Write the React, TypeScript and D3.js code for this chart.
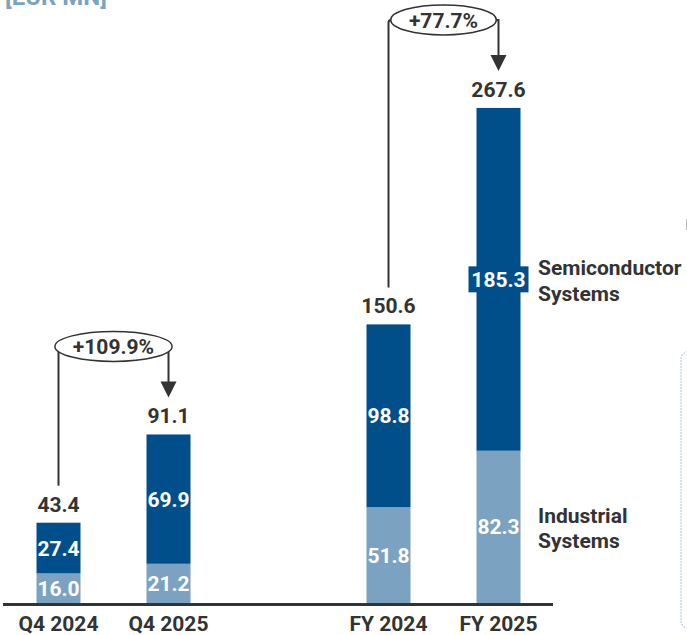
import React from "react";
import * as d3 from "d3";

const categories = ["Q4 2024", "Q4 2025", "", "FY 2024", "FY 2025"];
const barCategories = ["Q4 2024", "Q4 2025", "FY 2024", "FY 2025"];
const industrial = [16.0, 21.2, 51.8, 82.3];
const semiconductor = [27.4, 69.9, 98.8, 185.3];
const totals = [43.4, 91.1, 150.6, 267.6];
const growthLabels = ["+109.9%", "+77.7%"];
const growthFrom = ["Q4 2024", "FY 2024"];
const growthTo = ["Q4 2025", "FY 2025"];
const seriesNames = [["Industrial", "Systems"], ["Semiconductor", "Systems"]];
const unitLabel = "[EUR MN]";

const W = 687;
const H = 635;
const DARK = "#004E8A";
const LIGHT = "#7BA2C1";
const TEXT = "#333333";
const FONT = "Roboto, 'Liberation Sans', sans-serif";

export default function App() {
  const x = d3
    .scaleBand<string>()
    .domain(categories)
    .range([3.5, 553.5])
    .paddingInner(0.6)
    .paddingOuter(0.3);
  const y = d3.scaleLinear().domain([0, 300]).range([603, 48]);
  const bw = x.bandwidth();
  const cx = (c: string) => (x(c) as number) + bw / 2;

  const stack = d3
    .stack<any>()
    .keys(["ind", "semi"])(
      barCategories.map((c, i) => ({ cat: c, ind: industrial[i], semi: semiconductor[i] }))
    );
  const segValues = [industrial, semiconductor];
  const colors = [LIGHT, DARK];

  const last = barCategories.length - 1;
  const lastX = (x(barCategories[last]) as number) + bw;

  return (
    <svg
      width={W}
      height={H}
      style={{ position: "absolute", left: 0, top: 0, background: "#fff" }}
      fontFamily={FONT}
    >
      <text x={5} y={5} fontSize={24} fontWeight={700} fill={LIGHT}>
        {unitLabel}
      </text>

      {/* decorative border on the right */}
      <rect x={681} y={352} width={40} height={276} rx={7} fill="none" stroke="#A9C2D8" strokeWidth={1.3} strokeDasharray="1.5 1.5" />
      <line x1={686.5} x2={686.5} y1={219} y2={230} stroke="#BBBBBB" strokeWidth={1} />

      {stack.map((layer, li) => (
        <g key={li}>
          {layer.map((d, i) => {
            const c = barCategories[i];
            const top = y(d[1]);
            const bot = y(d[0]);
            return (
              <rect key={c} x={x(c)} y={top} width={bw} height={bot - top} fill={colors[li]} />
            );
          })}
        </g>
      ))}

      {stack.map((layer, li) => (
        <g key={"l" + li}>
          {layer.map((d, i) => {
            const c = barCategories[i];
            const mid = (y(d[0]) + y(d[1])) / 2;
            const label = segValues[li][i].toFixed(1);
            const wide = label.length >= 5;
            return (
              <g key={c}>
                {wide && (
                  <rect x={cx(c) - 30} y={mid - 13} width={60} height={26} fill={colors[li]} />
                )}
                <text
                  x={cx(c)}
                  y={mid + 7.5}
                  textAnchor="middle"
                  fontSize={21}
                  fontWeight={700}
                  fill="#ffffff"
                >
                  {label}
                </text>
              </g>
            );
          })}
        </g>
      ))}

      {barCategories.map((c, i) => (
        <text
          key={c}
          x={cx(c)}
          y={y(totals[i]) - 11}
          textAnchor="middle"
          fontSize={21}
          fontWeight={700}
          fill={TEXT}
        >
          {totals[i].toFixed(1)}
        </text>
      ))}

      {/* axis */}
      <line x1={3} x2={553} y1={604.5} y2={604.5} stroke={TEXT} strokeWidth={3} />
      {barCategories.map((c) => (
        <text key={c} x={cx(c)} y={631} textAnchor="middle" fontSize={21} fontWeight={700} fill={TEXT}>
          {c}
        </text>
      ))}

      {/* legend */}
      {stack.map((layer, li) => {
        const d = layer[last];
        const mid = (y(d[0]) + y(d[1])) / 2;
        return (
          <text key={li} x={lastX + 17.5} y={mid - 4} fontSize={21} fontWeight={700} fill={TEXT}>
            <tspan x={lastX + 17.5}>{seriesNames[li][0]}</tspan>
            <tspan x={lastX + 17.5} dy={25.5}>{seriesNames[li][1]}</tspan>
          </text>
        );
      })}

      {/* growth annotations */}
      {growthLabels.map((g, k) => {
        const fi = barCategories.indexOf(growthFrom[k]);
        const ti = barCategories.indexOf(growthTo[k]);
        const x1 = cx(growthFrom[k]);
        const x2 = cx(growthTo[k]);
        const fromTop = y(totals[fi]);
        const toTop = y(totals[ti]);
        const ecx = (x1 + x2) / 2;
        const ecy = toTop - 88;
        const rx = g.length * 5.8 + 18;
        const ry = 15;
        const meet = (px: number) => {
          const t = (px - ecx) / rx;
          return Math.abs(t) < 1 ? ecy + ry * Math.sqrt(1 - t * t) : ecy;
        };
        const leftInside = Math.abs(x1 - ecx) < rx;
        const rightInside = Math.abs(x2 - ecx) < rx;
        const tip = toTop - 37;
        const headLen = 16;
        const leftPath = leftInside
          ? `M${x1},${fromTop - 37}L${x1},${meet(x1)}`
          : `M${x1},${fromTop - 37}L${x1},${ecy + 3}Q${x1},${ecy} ${ecx - rx},${ecy}`;
        const rightPath = rightInside
          ? `M${x2},${meet(x2)}L${x2},${tip - headLen + 1}`
          : `M${ecx + rx},${ecy}L${x2},${ecy}L${x2},${tip - headLen + 1}`;
        return (
          <g key={g}>
            <path d={leftPath} fill="none" stroke={TEXT} strokeWidth={2} />
            <path d={rightPath} fill="none" stroke={TEXT} strokeWidth={2} />
            <path
              d={`M${x2 - 8},${tip - headLen}L${x2 + 8},${tip - headLen}L${x2},${tip}Z`}
              fill={TEXT}
            />
            <ellipse cx={ecx} cy={ecy} rx={rx} ry={ry} fill="#ffffff" stroke={TEXT} strokeWidth={1.5} />
            <text x={ecx} y={ecy + 8} textAnchor="middle" fontSize={21} fontWeight={700} fill={TEXT}>
              {g}
            </text>
          </g>
        );
      })}
    </svg>
  );
}
